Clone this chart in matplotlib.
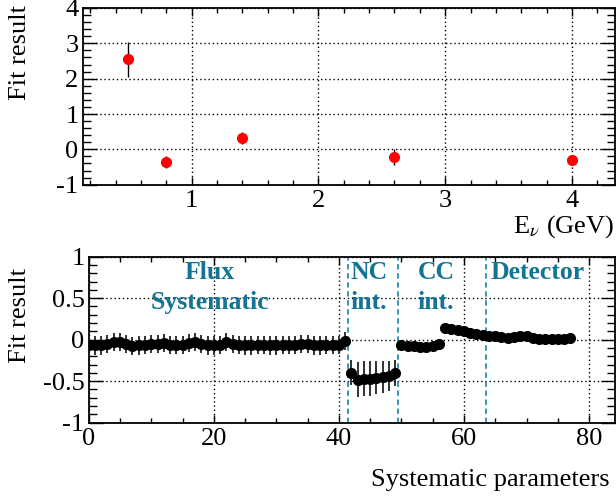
import matplotlib
matplotlib.use("Agg")
import matplotlib.pyplot as plt
from matplotlib.ticker import MultipleLocator, FuncFormatter

plt.rcParams['font.family'] = ['Liberation Serif', 'DejaVu Serif']
plt.rcParams['mathtext.fontset'] = 'stix'
plt.rcParams['axes.unicode_minus'] = False

# top panel: fit result per neutrino energy bin
energy = [0.5, 0.8, 1.4, 2.6, 4.0]
energy_fit = [2.55, -0.37, 0.32, -0.21, -0.30]
energy_err = [0.50, 0.17, 0.17, 0.22, 0.08]

# bottom panel: fit result per systematic parameter
param_idx = list(range(78))
param_fit = [
    # flux (0-41)
    -0.07, -0.07, -0.07, -0.05, -0.03, -0.03, -0.05, -0.08, -0.07, -0.06,
    -0.05, -0.05, -0.04, -0.06, -0.06, -0.06, -0.04, -0.03, -0.05, -0.07,
    -0.07, -0.06, -0.03, -0.05, -0.06, -0.07, -0.07, -0.06, -0.06, -0.07,
    -0.07, -0.06, -0.06, -0.06, -0.05, -0.05, -0.07, -0.07, -0.06, -0.06,
    -0.06, -0.02,
    # NC interaction (42-49)
    -0.40, -0.48, -0.47, -0.47, -0.46, -0.45, -0.44, -0.40,
    # CC interaction (50-63)
    -0.06, -0.075, -0.08, -0.085, -0.09, -0.08, -0.05, 0.145, 0.125, 0.115,
    0.10, 0.08, 0.065, 0.055,
    # detector (64-77)
    0.047, 0.04, 0.027, 0.02, 0.027, 0.047, 0.047, 0.02, 0.012, 0.012,
    0.012, 0.012, 0.012, 0.02,
]
param_err = [0.11] * 42 + [0.15, 0.21, 0.21, 0.21, 0.20, 0.19, 0.18, 0.16] + [0.02] * 28

group_edges = [41.5, 49.5, 63.5]
group_labels = [(19.4, 0.63, 'Flux\nSystematic'), (44.8, 0.63, 'NC\nint.'),
                (55.5, 0.63, 'CC\nint.'), (71.8, 0.81, 'Detector')]
teal = '#137494'

fig = plt.figure(figsize=(6.16, 4.96), dpi=100)
ax1 = fig.add_axes([0.1343, 0.6276, 0.8641, 0.3564])
ax2 = fig.add_axes([0.1440, 0.1478, 0.8544, 0.3347])

fmt = FuncFormatter(lambda v, p: '%g' % v)


def style(ax):
    ax.tick_params(which='both', direction='in', top=True, right=True, labelsize=19)
    ax.tick_params(axis='y', which='major', length=10, width=1, pad=3)
    ax.tick_params(axis='y', which='minor', length=6, width=1)
    ax.tick_params(axis='x', which='major', length=6, width=1, pad=4)
    ax.tick_params(axis='x', which='minor', length=3.5, width=1)
    ax.xaxis.set_major_formatter(fmt)
    ax.yaxis.set_major_formatter(fmt)
    ax.grid(True, which='major', linestyle=(0, (1, 2)), color='black', linewidth=1)
    for s in ax.spines.values():
        s.set_linewidth(1.3)


ax1.errorbar(energy, energy_fit, yerr=energy_err, fmt='o', color='red', ecolor='black',
             markersize=7, elinewidth=1, capsize=0, zorder=3)
ax1.set_xlim(0.14, 4.34)
ax1.set_ylim(-1, 4)
ax1.xaxis.set_major_locator(MultipleLocator(1))
ax1.xaxis.set_minor_locator(MultipleLocator(0.2))
ax1.yaxis.set_major_locator(MultipleLocator(1))
ax1.yaxis.set_minor_locator(MultipleLocator(0.2))
style(ax1)

ax2.errorbar(param_idx, param_fit, yerr=param_err, fmt='o', color='black', ecolor='#222222',
             markersize=7, elinewidth=1.3, capsize=0, zorder=3)
for e in group_edges:
    ax2.axvline(e, color='#2a8db3', linestyle=(0, (3, 2)), linewidth=1.3, zorder=2)
for x, y, lab in group_labels:
    ax2.text(x, y, lab, color=teal, fontsize=18.5, fontweight='bold',
             ha='center', va='center', linespacing=1.4)
ax2.set_xlim(0, 84.15)
ax2.set_ylim(-1, 1)
ax2.xaxis.set_major_locator(MultipleLocator(20))
ax2.xaxis.set_minor_locator(MultipleLocator(5))
ax2.yaxis.set_major_locator(MultipleLocator(0.5))
ax2.yaxis.set_minor_locator(MultipleLocator(0.1))
style(ax2)

fig.text(0.033, 0.895, 'Fit result', rotation=90, fontsize=19, ha='center', va='center')
fig.text(0.033, 0.364, 'Fit result', rotation=90, fontsize=19, ha='center', va='center')
fig.text(0.997, 0.543, r'E$_{\nu}$ (GeV)', fontsize=19, ha='right', va='center')
fig.text(0.99, 0.032, 'Systematic parameters', fontsize=19, ha='right', va='center')

fig.savefig('out.png', dpi=100)
